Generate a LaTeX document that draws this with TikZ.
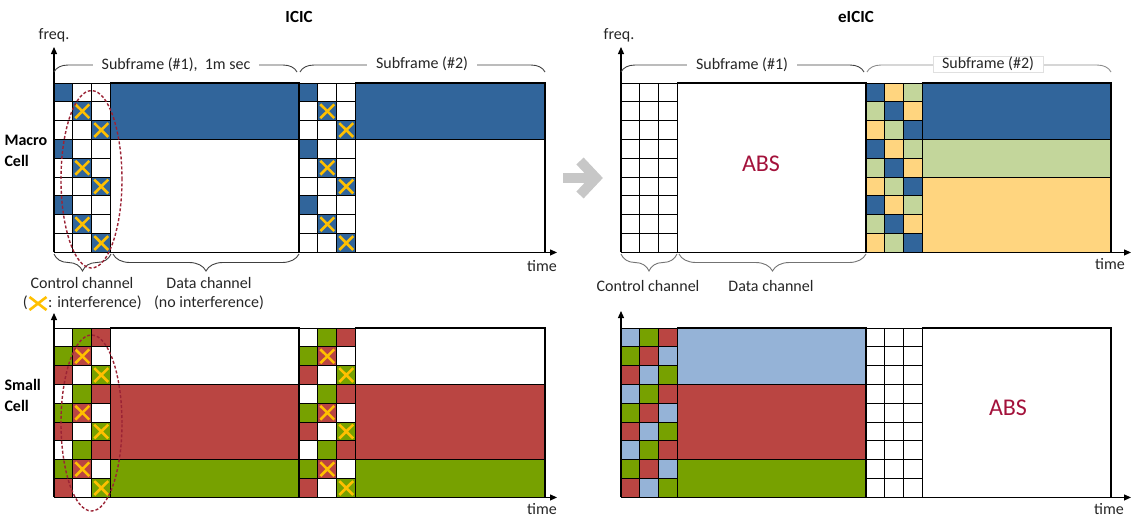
\documentclass[tikz,border=0pt]{standalone}
\usepackage{fontspec}
\setmainfont{Carlito}
\usetikzlibrary{arrows.meta,decorations.pathreplacing}
\definecolor{mB}{HTML}{31659B}
\definecolor{sR}{HTML}{BA4542}
\definecolor{sG}{HTML}{77A100}
\definecolor{lG}{HTML}{C3D69B}
\definecolor{lY}{HTML}{FFD57F}
\definecolor{lB}{HTML}{95B3D7}
\definecolor{xY}{HTML}{FFC000}
\definecolor{absR}{HTML}{A3123B}
\definecolor{ellR}{HTML}{9B2335}
\definecolor{txt}{HTML}{262626}
\newcommand{\mycw}{18.9}
\newcommand{\myrh}{18.83}
\newcommand{\ctrlblock}[3]{%
  \foreach \r/\ca/\cb/\cc in #3{
    \fill[\ca] ({#1},{#2+\r*\myrh}) rectangle ++(\mycw,\myrh);
    \fill[\cb] ({#1+\mycw},{#2+\r*\myrh}) rectangle ++(\mycw,\myrh);
    \fill[\cc] ({#1+2*\mycw},{#2+\r*\myrh}) rectangle ++(\mycw,\myrh);
  }
  \foreach \r in {0,...,8}{\foreach \c in {0,1,2}{
    \draw[cellline] ({#1+\c*\mycw},{#2+\r*\myrh}) rectangle ++(\mycw,\myrh);
  }}
}
\newcommand{\xmarks}[2]{%
  \foreach \r/\c in {1/1,2/2,4/1,5/2,7/1,8/2}{
    \draw[xm] ({#1+\c*\mycw+2.5},{#2+\r*\myrh+2.5}) -- ++({\mycw-5},{\myrh-5})
              ({#1+\c*\mycw+\mycw-2.5},{#2+\r*\myrh+2.5}) -- ++({-\mycw+5},{\myrh-5});
  }
}
\newcommand{\patM}{0/mB/white/white,1/white/mB/white,2/white/white/mB,3/mB/white/white,4/white/mB/white,5/white/white/mB,6/mB/white/white,7/white/mB/white,8/white/white/mB}
\newcommand{\patS}{0/white/sG/sR,1/sG/sR/white,2/sR/white/sG,3/white/sG/sR,4/sG/sR/white,5/sR/white/sG,6/white/sG/sR,7/sG/sR/white,8/sR/white/sG}
\newcommand{\patT}{0/mB/lY/lG,1/lG/mB/lY,2/lY/lG/mB,3/mB/lY/lG,4/lG/mB/lY,5/lY/lG/mB,6/mB/lY/lG,7/lG/mB/lY,8/lY/lG/mB}
\newcommand{\patB}{0/lB/sG/sR,1/sG/sR/lB,2/sR/lB/sG,3/lB/sG/sR,4/sG/sR/lB,5/sR/lB/sG,6/lB/sG/sR,7/sG/sR/lB,8/sR/lB/sG}
\newcommand{\patW}{0/white/white/white,1/white/white/white,2/white/white/white,3/white/white/white,4/white/white/white,5/white/white/white,6/white/white/white,7/white/white/white,8/white/white/white}
\tikzset{
  cellline/.style={draw=black, line width=1pt},
  xm/.style={draw=xY, line width=2.6pt},
  blk/.style={draw=black, line width=1.2pt},
  axis/.style={line width=1.2pt, -{Triangle[length=7pt,width=6pt]}},
  brc/.style={decorate, decoration={brace, amplitude=14pt}, line width=0.9pt, draw=black!75},
  brcd/.style={decorate, decoration={brace, amplitude=17pt}, line width=0.9pt, draw=black!75},
  lbl/.style={text=txt, font=\fontsize{16}{19}\selectfont},
  sublbl/.style={lbl, fill=white, inner xsep=9pt, inner ysep=2pt},
  ttl/.style={text=black, font=\fontsize{17}{20}\selectfont\bfseries},
  side/.style={text=black, font=\fontsize{16}{21}\selectfont\bfseries, align=left, anchor=west},
  abs/.style={text=absR, font=\fontsize{24}{28}\selectfont},
  ell/.style={draw=ellR, line width=1.4pt, dash pattern=on 3pt off 2pt},
}
\begin{document}
\begin{tikzpicture}[x=1pt,y=-1pt]
\useasboundingbox (0,0) rectangle (1136,522);

% titles
\node[ttl] (t1) at (299,17) {ICIC};
\node[ttl] (t2) at (856,17) {eICIC};
\node[side] (mc) at (1,151) {Macro\\Cell};
\node[side] (sc) at (1,395) {Small\\Cell};

% ---- top-left: macro cell ICIC
\filldraw[blk, fill=mB] (110.7,83) rectangle (299,139.49);
\draw[blk] (110.7,139.49) rectangle (299,252.47);
\filldraw[blk, fill=mB] (355.7,83) rectangle (545,139.49);
\draw[blk] (355.7,139.49) rectangle (545,252.47);
\ctrlblock{54}{83}{\patM}
\ctrlblock{299}{83}{\patM}
\xmarks{54}{83}
\xmarks{299}{83}

% ---- bottom-left: small cell ICIC
\draw[blk] (110.7,328) rectangle (299,384.49);
\filldraw[blk, fill=sR] (110.7,384.49) rectangle (299,459.81);
\filldraw[blk, fill=sG] (110.7,459.81) rectangle (299,497.47);
\draw[blk] (355.7,328) rectangle (545,384.49);
\filldraw[blk, fill=sR] (355.7,384.49) rectangle (545,459.81);
\filldraw[blk, fill=sG] (355.7,459.81) rectangle (545,497.47);
\ctrlblock{54}{328}{\patS}
\ctrlblock{299}{328}{\patS}
\xmarks{54}{328}
\xmarks{299}{328}

% ---- top-right: macro cell eICIC
\draw[blk] (677.7,83) rectangle (866,252.47);
\node[abs] (abs1) at (761,164) {ABS};
\filldraw[blk, fill=mB] (922.7,83) rectangle (1111,139.49);
\filldraw[blk, fill=lG] (922.7,139.49) rectangle (1111,177.15);
\filldraw[blk, fill=lY] (922.7,177.15) rectangle (1111,252.47);
\ctrlblock{621}{83}{\patW}
\ctrlblock{866}{83}{\patT}

% ---- bottom-right: small cell eICIC
\filldraw[blk, fill=lB] (677.7,328) rectangle (866,384.49);
\filldraw[blk, fill=sR] (677.7,384.49) rectangle (866,459.81);
\filldraw[blk, fill=sG] (677.7,459.81) rectangle (866,497.47);
\draw[blk] (922.7,328) rectangle (1111,497.47);
\node[abs] (abs2) at (1008,408) {ABS};
\ctrlblock{621}{328}{\patB}
\ctrlblock{866}{328}{\patW}

% ---- axes
\coordinate (o1) at (54,252.47); \coordinate (o2) at (54,497.47);
\coordinate (o3) at (621,252.47); \coordinate (o4) at (621,497.47);
\coordinate (f1) at (54,47); \coordinate (f2) at (54,313);
\coordinate (f3) at (621,47); \coordinate (f4) at (621,311);
\coordinate (e1) at (557,252.47); \coordinate (e2) at (557,497.47);
\coordinate (e3) at (1131,252.47); \coordinate (e4) at (1131,497.47);
\draw[axis] (o1) -- (f1); \draw[axis] (o1) -- (e1);
\draw[axis] (o2) -- (f2); \draw[axis] (o2) -- (e2);
\draw[axis] (o3) -- (f3); \draw[axis] (o3) -- (e3);
\draw[axis] (o4) -- (f4); \draw[axis] (o4) -- (e4);
\node[lbl] (fq1) at (54,35) {freq.};
\node[lbl] (fq2) at (619,35) {freq.};
\node[lbl] (tm1) at (542,266) {time};
\node[lbl] (tm2) at (1110,264) {time};
\node[lbl] (tm3) at (542,509) {time};
\node[lbl] (tm4) at (1109,509) {time};

% ---- top braces
\draw[brc] (54,72) -- (297,72);
\node[sublbl] (sf1) at (176,65) {Subframe (\#1),\ \ 1m sec};
\draw[brc] (300,72) -- (545,72);
\node[sublbl] (sf2) at (422,64) {Subframe (\#2)};
\draw[brc] (621,72) -- (864,72);
\node[sublbl] (sf3) at (742,65) {Subframe (\#1)};
\draw[brc, draw=black!45] (867,72) -- (1111,72);
\node[sublbl, draw=black!12, line width=0.5pt, inner ysep=1pt] (sf4) at (988,64) {Subframe (\#2)};

% ---- bottom braces
\draw[brcd] (111,254) -- (54,254);
\draw[brcd] (299,254) -- (113,254);
\draw[brcd, draw=black!55] (677,254) -- (621,254);
\draw[brcd, draw=black!55] (866,254) -- (679,254);
\node[lbl] (cc1) at (82,283) {Control channel};
\node[lbl] (dc1) at (209,283) {Data channel};
\node[lbl] (ni1) at (209,303) {(no interference)};
\node[lbl, anchor=east, inner sep=0pt] (lp) at (28,303) {(};
\node[lbl, anchor=west, inner sep=0pt] (li) at (48,303) {: interference)};
\draw[xm] (29.5,297) -- (46.5,310) (46.5,297) -- (29.5,310);
\node[lbl] (cc2) at (648,286) {Control channel};
\node[lbl] (dc2) at (771,286) {Data channel};

% ---- dashed ellipses
\draw[ell] (91.5,179.3) ellipse [x radius=30.5pt, y radius=88.7pt];
\draw[ell] (91.5,423) ellipse [x radius=30.5pt, y radius=88pt];

% ---- gray arrow
\draw[line width=10pt, draw=black!22] (563,178) -- (593,178);
\draw[line width=10pt, draw=black!22, line join=miter] (580,161) -- (596,178) -- (580,195);
\end{tikzpicture}
\end{document}
